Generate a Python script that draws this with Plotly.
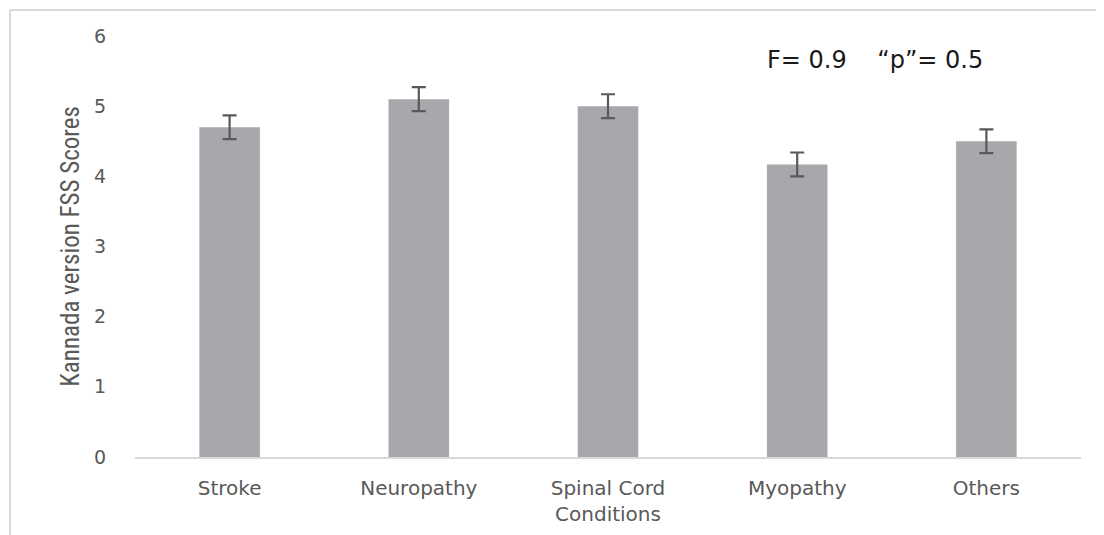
import plotly.graph_objects as go

categories = ["Stroke", "Neuropathy", "Spinal Cord<br>Conditions", "Myopathy", "Others"]
scores = [4.7, 5.1, 5.0, 4.17, 4.5]
errors = [0.17, 0.17, 0.17, 0.17, 0.17]
y_ticks = [0, 1, 2, 3, 4, 5, 6]

# the page body adds an 8px offset; layout is designed in window pixels minus 8
OFF = 8
W, H = 1104 - OFF, 535 - OFF
ml, mt = 135 - OFF, 36 - OFF
pw, ph = 946, 421
mr, mb = W - ml - pw, H - mt - ph

def px(x):
    return (x - OFF - ml) / pw

def py(y):
    return (mt + ph - (y - OFF)) / ph

fig = go.Figure(go.Bar(
    x=categories, y=scores,
    marker=dict(color="#a7a8ab", line=dict(width=0)),
    width=0.32,
    error_y=dict(type="data", array=errors, color="#595959", thickness=2.2, width=7),
))

fig.update_layout(
    width=W, height=H,
    margin=dict(l=ml, r=mr, t=mt, b=mb, autoexpand=False),
    plot_bgcolor="white", paper_bgcolor="white",
    showlegend=False,
    font=dict(family="DejaVu Sans, sans-serif", color="#595959"),
    xaxis=dict(
        showline=True, linecolor="#d9d9d9", linewidth=2,
        tickfont=dict(size=20, color="#595959"),
        ticks="", showgrid=False, automargin=False,
        ticklabelstandoff=12,
    ),
    yaxis=dict(
        range=[0, 6], tickvals=y_ticks, showgrid=False, zeroline=False,
        showline=False, ticks="", automargin=False,
        tickfont=dict(size=19, color="#595959"),
        ticklabelstandoff=28,
        title=dict(text="Kannada version FSS Scores",
                   font=dict(family="Roboto Condensed, Liberation Sans Narrow, sans-serif", size=25, color="#595959"),
                   standoff=7),
    ),
    annotations=[dict(
        text="F= 0.9    \u201cp\u201d= 0.5", xref="paper", yref="paper",
        x=px(875), y=py(60), xanchor="center", yanchor="middle",
        showarrow=False, font=dict(family="DejaVu Sans, sans-serif", size=24, color="#1a1a1a"),
    )],
    shapes=[
        dict(type="line", xref="paper", yref="paper",
             x0=px(10), x1=px(10), y0=py(10), y1=py(560),
             line=dict(color="#d9d9d9", width=2)),
        dict(type="line", xref="paper", yref="paper",
             x0=px(10), x1=px(1120), y0=py(10), y1=py(10),
             line=dict(color="#d9d9d9", width=2)),
    ],
)

fig.write_html("out.html")
